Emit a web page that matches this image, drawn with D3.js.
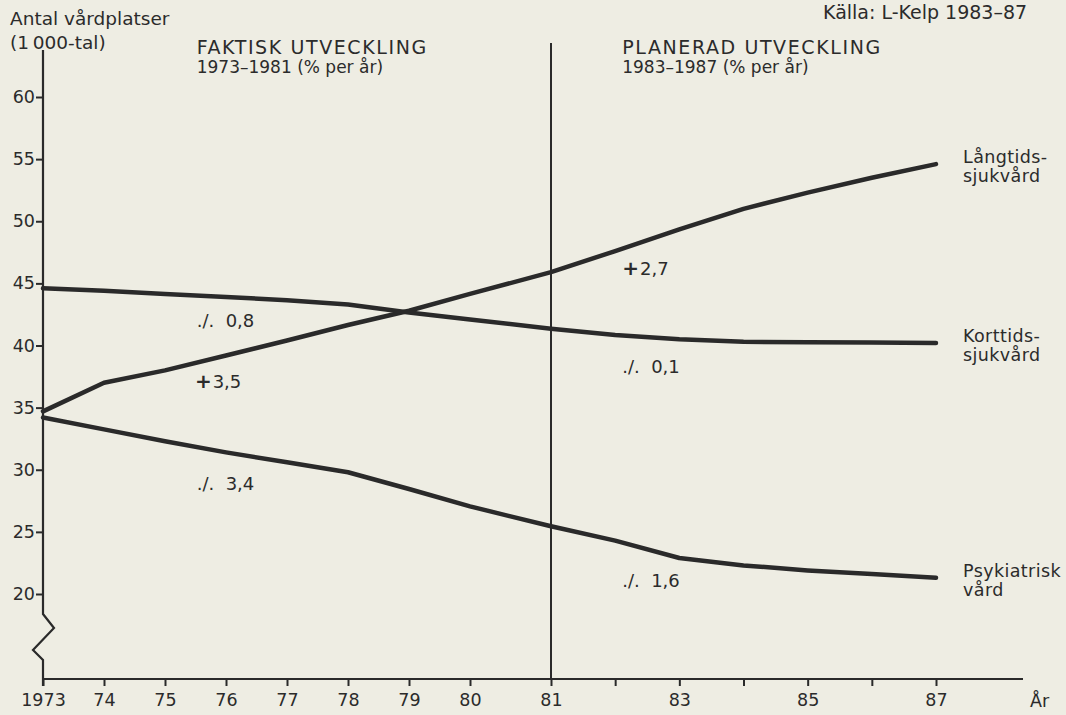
<!DOCTYPE html>
<html>
<head>
<meta charset="utf-8">
<script src="https://cdn.jsdelivr.net/npm/d3@7"></script>
<style>
  html, body { margin: 0; padding: 0; background: #eeede3; }
  svg { display: block; }
  text { font-family: "DejaVu Sans", sans-serif; fill: #2b2b2b; }
</style>
</head>
<body>
<svg id="chart" width="1066" height="715"></svg>
<script>
// ---- data ----
const years = [1973,1974,1975,1976,1977,1978,1979,1980,1981,1982,1983,1984,1985,1986,1987];
const langtids = [34.7,37.0,38.0,39.2,40.4,41.65,42.8,44.15,45.9,47.6,49.35,51.0,52.3,53.5,54.6];
const korttids = [44.6,44.4,44.15,43.9,43.65,43.3,42.65,42.1,41.35,40.85,40.5,40.3,40.27,40.25,40.2];
const psykiatrisk = [34.2,33.25,32.3,31.4,30.6,29.8,28.45,27.05,25.45,24.3,22.9,22.3,21.9,21.6,21.3];
const seriesNames = [["Långtids-","sjukvård"],["Korttids-","sjukvård"],["Psykiatrisk","vård"]];
const yTicks = [20,25,30,35,40,45,50,55,60];
const xTickLabels = ["1973","74","75","76","77","78","79","80","81","","83","","85","","87"];
const rateTexts = ["./.  0,8","+3,5","./.  3,4","+2,7","./.  0,1","./.  1,6"];
const rateYears = [1975.52,1975.49,1975.52,1982.11,1982.11,1982.11];
const rateValues = [41.5,36.6,28.4,45.7,37.8,20.6];
const headings = [["FAKTISK UTVECKLING","1973–1981 (% per år)"],["PLANERAD UTVECKLING","1983–1987 (% per år)"]];
const headingYears = [1975.52, 1982.11];
const yTitle = ["Antal vårdplatser","(1\u2009000-tal)"];
const xTitle = "År";
const source = "Källa: L-Kelp 1983–87";

// ---- scales ----
const svg = d3.select("#chart");
const x = d3.scaleLinear().domain([1973,1980,1981,1987]).range([43,470,551,936]);
const y = d3.scaleLinear().domain([20,60]).range([594,97]);
const axisY = 679;
const ink = "#2a2a2a";

// ---- y axis ----
const x0 = x(1973);
const yAxisPath = [[x0, y(60)-47],[x0, 614],[x0+11, 628],[x0-10, 650],[x0, 660],[x0, axisY+7]];
svg.append("path").attr("d", d3.line()(yAxisPath))
  .attr("fill","none").attr("stroke",ink).attr("stroke-width",2.2).attr("stroke-linejoin","miter");

const gy = svg.append("g").attr("transform",`translate(${x0},0)`)
  .call(d3.axisLeft(y).tickValues(yTicks).tickSize(7).tickPadding(1).tickFormat(d3.format("d")));
gy.select(".domain").remove();
gy.selectAll(".tick line").attr("stroke",ink).attr("stroke-width",2);
gy.selectAll(".tick text").attr("font-size",17.5).attr("font-family","DejaVu Sans").attr("fill","#2b2b2b");

// ---- x axis ----
svg.append("line").attr("x1",x0).attr("x2",1023).attr("y1",axisY).attr("y2",axisY)
  .attr("stroke",ink).attr("stroke-width",2.2);
const gx = svg.append("g").attr("transform",`translate(0,${axisY})`)
  .call(d3.axisBottom(x).tickValues(years).tickSize(7).tickPadding(8).tickFormat((d,i)=>xTickLabels[i]));
gx.select(".domain").remove();
gx.selectAll(".tick line").attr("stroke",ink).attr("stroke-width",2);
gx.selectAll(".tick text").attr("font-size",17.5).attr("font-family","DejaVu Sans").attr("fill","#2b2b2b");
svg.append("text").attr("x",1030).attr("y",707).attr("font-size",17.5).text(xTitle);

// divider at 1981
svg.append("line").attr("x1",x(1981)).attr("x2",x(1981)).attr("y1",43).attr("y2",axisY)
  .attr("stroke",ink).attr("stroke-width",2);

// ---- lines ----
const line = d3.line().x((d,i)=>x(years[i])).y(d=>y(d)).curve(d3.curveLinear);
const allSeries = [langtids, korttids, psykiatrisk];
svg.selectAll("path.series").data(allSeries).enter().append("path")
  .attr("class","series").attr("d", line)
  .attr("fill","none").attr("stroke",ink).attr("stroke-width",4.5)
  .attr("stroke-linecap","round").attr("stroke-linejoin","round");

// series labels
allSeries.forEach((s,i)=>{
  const lx = x(1987)+27;
  const t = svg.append("text").attr("x", lx).attr("y", y(s[s.length-1])-1)
    .attr("font-size",17.5).attr("letter-spacing",0.4);
  t.append("tspan").attr("x", lx).text(seriesNames[i][0]);
  t.append("tspan").attr("x", lx).attr("dy",19).text(seriesNames[i][1]);
});

// rate labels
rateTexts.forEach((txt,i)=>{
  const t = svg.append("text").attr("x", x(rateYears[i])).attr("y", y(rateValues[i]))
    .attr("font-size",18).style("white-space","pre");
  if (txt[0]==="+") {
    t.append("tspan").attr("font-weight","bold").attr("font-size",20).text("+");
    t.append("tspan").attr("dx",1).text(txt.slice(1));
  } else {
    t.text(txt);
  }
});

// headings
headings.forEach((h,i)=>{
  svg.append("text").attr("x", x(headingYears[i])).attr("y",54)
    .attr("font-size",19).attr("letter-spacing",1.6).text(h[0]);
  svg.append("text").attr("x", x(headingYears[i])).attr("y",73)
    .attr("font-size",17).text(h[1]);
});

// y title
svg.append("text").attr("x",10).attr("y",25).attr("font-size",18.5).text(yTitle[0]);
svg.append("text").attr("x",10).attr("y",49).attr("font-size",18.5).text(yTitle[1]);

// source
svg.append("text").attr("x",823).attr("y",19).attr("font-size",19)
  .attr("font-family","Liberation Serif, serif").text(source);
</script>
</body>
</html>
